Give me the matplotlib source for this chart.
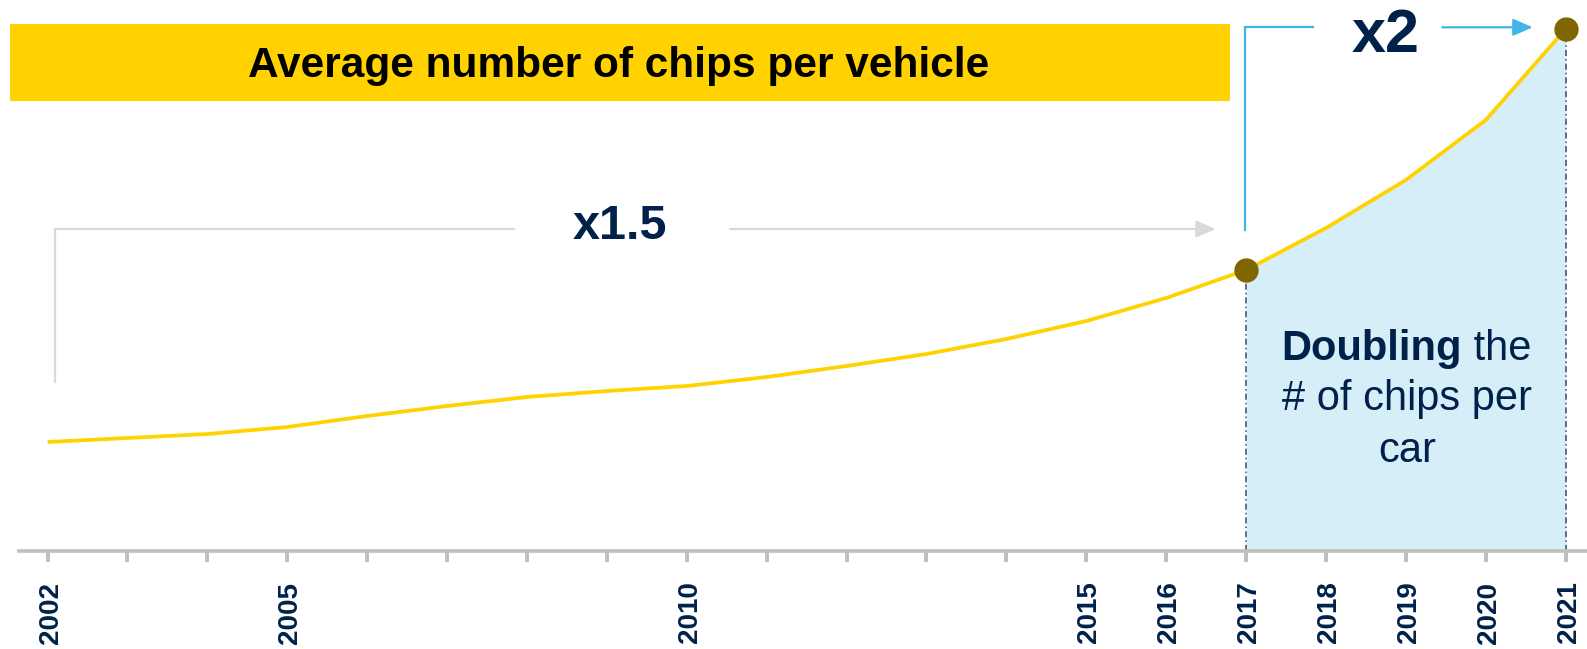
import matplotlib.pyplot as plt
from matplotlib.patches import Rectangle

plt.rcParams['font.family'] = ['Liberation Sans', 'DejaVu Sans']

# average chips per vehicle, relative index (no y scale shown)
years = list(range(2002, 2022))
chips_index = [109, 113, 117, 124, 135, 145, 154, 160, 165, 174,
               185, 197, 212, 230, 253, 281, 323, 371, 431, 522]
tick_labels = ['2002', '', '', '2005', '', '', '', '', '2010', '',
               '', '', '', '2015', '2016', '2017', '2018', '2019', '2020', '2021']
marked_years = [2017, 2021]
title = 'Average number of chips per vehicle'
growth_long = 'x1.5'
growth_short = 'x2'

NAVY = '#00214A'
YELLOW = '#FFD200'
OLIVE = '#806600'
AXIS_GREY = '#BFBFBF'
BRACKET_GREY = '#D9D9D9'
BRACKET_BLUE = '#41B6E6'
SHADE = '#D6EEF8'

value = dict(zip(years, chips_index))

fig = plt.figure(figsize=(15.87, 6.49), dpi=100)
ax = fig.add_axes([0, 98 / 649, 1, 551 / 649])
ax.set_xlim(2001.4043, 2021.2666)
ax.set_ylim(0, 551)

# shaded area under the curve for the last stretch
recent = [i for i, y in enumerate(years) if y >= marked_years[0]]
ax.fill_between([years[i] for i in recent], [chips_index[i] for i in recent], 0,
                color=SHADE, lw=0, zorder=1)
ax.vlines(marked_years, 0, [value[y] for y in marked_years], colors='#3A4A66',
          linestyles=[(0, (4, 2, 1, 2))], lw=1.1, zorder=2)

ax.plot(years, chips_index, color=YELLOW, lw=2.7, zorder=3,
        solid_capstyle='butt', solid_joinstyle='round')
ax.plot(marked_years, [value[y] for y in marked_years], 'o', color=OLIVE,
        markersize=16.5, zorder=4)

# header banner
ax.add_patch(Rectangle((2001.529, 450), 15.269, 77, color=YELLOW, lw=0, zorder=2))
ax.text(2009.151, 473.7, title, ha='center', va='baseline', fontsize=30.5,
        fontweight='bold', color='black', zorder=3)

arrow = dict(arrowstyle='-|>,head_length=0.8,head_width=0.35', mutation_scale=15,
             shrinkA=0, shrinkB=0)

# 2002 -> 2017 bracket
ax.plot([2002.088, 2002.088, 2007.84], [169, 322, 322], color=BRACKET_GREY, lw=1.6,
        solid_joinstyle='miter', zorder=2)
ax.annotate('', xy=(2016.62, 322), xytext=(2010.54, 322),
            arrowprops=dict(arrow, color=BRACKET_GREY, lw=1.6), zorder=2)
ax.text(2009.164, 312, growth_long, ha='center', va='baseline', fontsize=35,
        fontweight='bold', color=NAVY)

# 2017 -> 2021 bracket
ax.plot([2016.986, 2016.986, 2017.834], [321, 523.7, 523.7], color=BRACKET_BLUE, lw=1.6,
        solid_joinstyle='miter', zorder=2)
ax.annotate('', xy=(2020.587, 523.7), xytext=(2019.456, 523.7),
            arrowprops=dict(arrow, color=BRACKET_BLUE, lw=1.6), zorder=2)
ax.text(2018.751, 499.3, growth_short, ha='center', va='baseline', fontsize=44,
        fontweight='bold', color=NAVY)

# note inside the shaded area
ax.text(2019.702, 191, 'Doubling', ha='right', va='baseline', fontsize=30,
        fontweight='bold', color=NAVY, zorder=5)
ax.text(2019.702, 191, ' the', ha='left', va='baseline', fontsize=30,
        color=NAVY, zorder=5)
ax.text(2019.014, 141, '# of chips per', ha='center', va='baseline', fontsize=30,
        color=NAVY, zorder=5)
ax.text(2019.014, 89, 'car', ha='center', va='baseline', fontsize=30,
        color=NAVY, zorder=5)

for side in ['top', 'left', 'right']:
    ax.spines[side].set_visible(False)
ax.spines['bottom'].set_color(AXIS_GREY)
ax.spines['bottom'].set_linewidth(2.6)
ax.spines['bottom'].set_bounds(2001.642, 2021.2666)
ax.set_yticks([])
ax.set_xticks(years)
ax.set_xticklabels(tick_labels, rotation=90, fontweight='bold',
                   rotation_mode='anchor', ha='right', va='center_baseline')
ax.tick_params(axis='x', length=8, width=2.8, color=AXIS_GREY, pad=14,
               labelsize=20, labelcolor=NAVY)
ax.patch.set_visible(False)

fig.savefig('out.png', dpi=100)
